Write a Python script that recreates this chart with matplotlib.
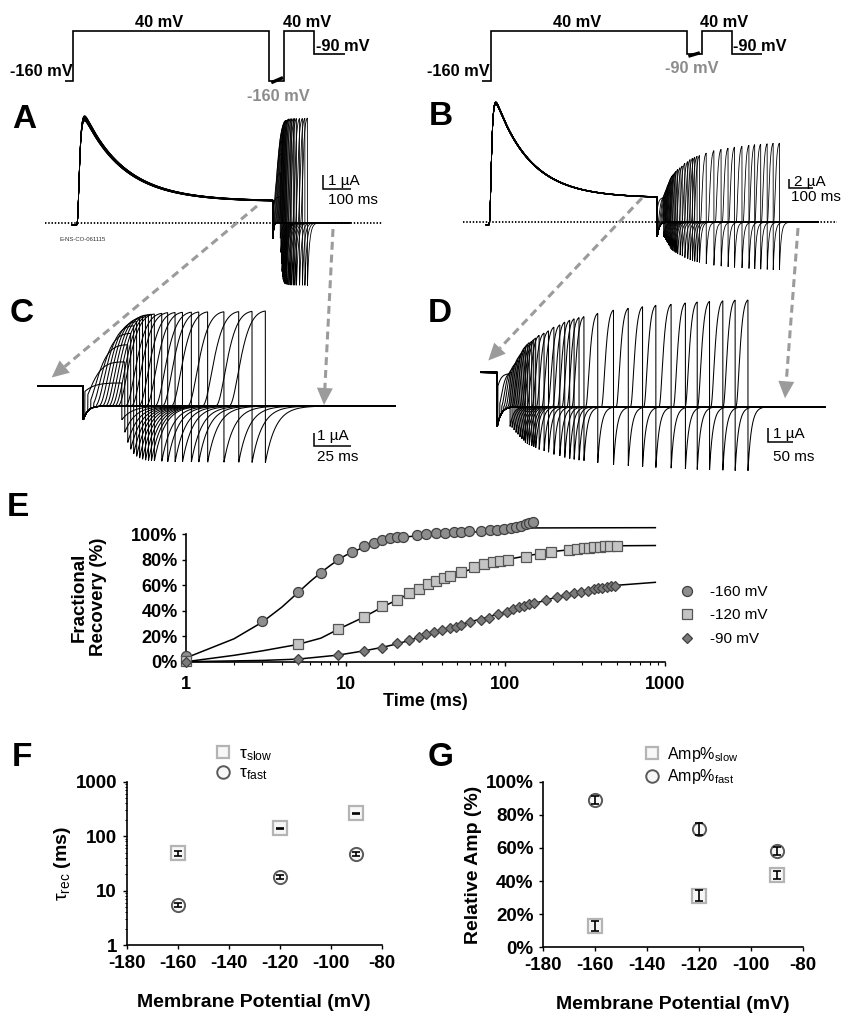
import numpy as np
import matplotlib
matplotlib.use('Agg')
import matplotlib.pyplot as plt
from matplotlib import font_manager as fm
from matplotlib.patches import Polygon
from matplotlib.ticker import FixedLocator, FixedFormatter, NullFormatter, LogLocator

W, H, DPI = 843, 1015, 100

# ------------------------------------------------------------------ data
# Panel E : fractional recovery (%) vs recovery interval (ms)
t160 = [1, 3, 5, 7, 9, 11, 13, 15, 17, 19, 21, 23, 28, 32, 37, 42, 48, 53, 59,
        70, 80, 89, 98, 108, 116, 125, 134, 141, 150]
y160 = [4.7, 31.9, 54.5, 69.9, 80.4, 86.3, 90.6, 93.4, 95.8, 96.8, 97.6, 98.1, 99.2,
        100.4, 100.8, 101.2, 101.6, 102.0, 102.3, 102.6, 103.0, 103.5, 104.2, 105.0,
        105.8, 106.8, 107.8, 108.5, 109.9]
t120 = [1, 5, 9, 13, 17, 21, 25, 29, 33, 37, 41, 45, 53, 64, 74, 84, 93, 104, 134,
        165, 192, 251, 281, 310, 335, 359, 391, 422, 453, 498]
y120 = [0.5, 13.6, 25.7, 35.1, 43.5, 48.2, 54.0, 57.0, 60.7, 63.3, 65.9, 67.3, 70.6,
        74.6, 76.4, 78.0, 79.0, 79.8, 82.4, 84.3, 85.8, 87.7, 88.5, 89.0, 89.5, 90.0,
        90.3, 90.6, 90.8, 91.0]
t90 = [1, 5, 9, 13, 17, 21, 25, 29, 32, 36, 40, 45, 49, 53, 60, 70, 79, 90, 102, 112,
       122, 131, 141, 151, 179, 211, 241, 270, 297, 328, 357, 381, 406, 433, 458, 484]
y90 = [0, 1.8, 5.2, 8.6, 11.0, 14.4, 16.9, 19.2, 21.7, 23.6, 25.1, 26.2, 27.5, 28.8,
       30.9, 32.7, 34.5, 37.4, 39.2, 41.4, 42.9, 44.0, 45.0, 45.8, 48.4, 51.0, 52.4,
       53.7, 54.9, 55.7, 56.8, 57.6, 58.1, 58.6, 59.2, 59.4]
# fitted curves
fit160_t = [1, 2, 3, 4, 5, 6, 7, 8, 9, 10, 12, 14, 17, 20, 25, 30, 40, 60, 100, 150, 870]
fit160_y = [3, 18, 31, 43, 54, 63, 70, 75.5, 80, 83.5, 88, 91.5, 94.5, 96.5, 98.2, 99.2,
            100.2, 101.5, 103.5, 105, 105.2]
fit120_t = [1, 2, 3, 5, 7, 9, 13, 17, 21, 25, 30, 40, 50, 70, 100, 150, 200, 300, 500, 870]
fit120_y = [0, 5, 8.5, 13.5, 18.5, 25.5, 35, 43, 48.5, 53.5, 57.8, 64.5, 69, 75, 80, 84,
            86.5, 89, 91, 91.2]
fit90_t = [1, 3, 5, 9, 13, 17, 21, 25, 30, 40, 50, 70, 100, 150, 200, 300, 500, 870]
fit90_y = [0, 1, 2, 5.2, 8.5, 11.3, 14, 16.7, 19.8, 24.8, 28.5, 33.5, 39, 45.5, 50, 55,
           60, 62.3]
legend_E = ['-160 mV', '-120 mV', '-90 mV']

# Panels F / G
potentials = [-160, -120, -90]
tau_slow = [48.4, 139, 263]
tau_slow_err = [6, 3, 5]
tau_fast = [5.43, 18.0, 46.4]
tau_fast_err = [0.45, 1.5, 4]
amp_fast = [88.9, 71.4, 58.3]
amp_fast_err = [2.4, 3.5, 2.5]
amp_slow = [13.0, 31.0, 43.7]
amp_slow_err = [3.0, 3.3, 2.6]

# Voltage protocols (schematic)
prot_edges = [-30, 0, 700, 755, 860, 970]
prot_A_mV = [-160, 40, -160, 40, -90]
prot_B_mV = [-160, 40, -90, 40, -90]

# Recovery-protocol timing for the current traces (ms)
Tc = 700.0
D_test = 25.0
sweeps_160 = [d for d in t160 if d <= 100]
sweeps_90 = list(t90)

# ------------------------------------------------------------------ style
names = {f.name for f in fm.fontManager.ttflist}
SANS = 'Liberation Sans' if 'Liberation Sans' in names else 'DejaVu Sans'
plt.rcParams['font.family'] = [SANS, 'DejaVu Sans']
plt.rcParams['axes.unicode_minus'] = False
plt.rcParams['mathtext.fontset'] = 'custom'
plt.rcParams['mathtext.rm'] = SANS
plt.rcParams['mathtext.it'] = SANS + ':italic'
plt.rcParams['mathtext.bf'] = SANS + ':bold'

fig = plt.figure(figsize=(W / DPI, H / DPI), dpi=DPI)


def px_axes(l, t, r, b):
    return fig.add_axes([l / W, 1 - b / H, (r - l) / W, (b - t) / H])


def trace_axes(rect, x0_px, t0, px_per_ms, y0_px, px_per_ua):
    l, t, r, b = rect
    ax = px_axes(l, t, r, b)
    ax.set_xlim(t0 + (l - x0_px) / px_per_ms, t0 + (r - x0_px) / px_per_ms)
    ax.set_ylim((y0_px - b) / px_per_ua, (y0_px - t) / px_per_ua)
    ax.axis('off')
    ax.patch.set_alpha(0)
    return ax


# ------------------------------------------------------------------ simple channel model
tau_act, tau_inact, h_ss, tau_resid = 6.0, 145.0, 0.17, 6.0
tail_after_ratio, tail_after_tau = -0.6, 7.0
_tt = np.arange(0, Tc, 0.05)
G = 1.0 / np.max((1 - np.exp(-_tt / tau_act)) ** 3 * (h_ss + (1 - h_ss) * np.exp(-_tt / tau_inact)))


def sweep(delta, rec_t, rec_y, ratio_int, tau_int, t0, t1, dt):
    t = np.arange(t0, t1, dt)
    I = np.full_like(t, -0.02)
    c = (t >= 0) & (t < Tc)
    I[c] = G * (1 - np.exp(-t[c] / tau_act)) ** 3 * (h_ss + (1 - h_ss) * np.exp(-t[c] / tau_inact))
    i_plat = G * (1 - np.exp(-Tc / tau_act)) ** 3 * (h_ss + (1 - h_ss) * np.exp(-Tc / tau_inact))
    r = (t >= Tc) & (t < Tc + delta)
    I[r] = ratio_int * i_plat * np.exp(-(t[r] - Tc) / tau_int)
    frac = np.interp(np.log10(delta), np.log10(rec_t), rec_y) / 100.0
    h0 = h_ss + (1 - h_ss) * frac
    m0 = np.exp(-delta / tau_resid)
    s = (t >= Tc + delta) & (t < Tc + delta + D_test)
    ts = t[s] - (Tc + delta)
    I[s] = G * (1 - (1 - m0) * np.exp(-ts / tau_act)) ** 3 * (h_ss + (h0 - h_ss) * np.exp(-ts / tau_inact))
    i_end = G * (1 - (1 - m0) * np.exp(-D_test / tau_act)) ** 3 * (h_ss + (h0 - h_ss) * np.exp(-D_test / tau_inact))
    e = t >= Tc + delta + D_test
    I[e] = tail_after_ratio * i_end * np.exp(-(t[e] - Tc - delta - D_test) / tail_after_tau)
    return t, I


def draw_sweeps(ax, sweeps, rec_t, rec_y, ratio_int, tau_int, t0, t1, dt, amp, rundown, lw):
    n = len(sweeps)
    for i, d in enumerate(sweeps):
        t, I = sweep(d, rec_t, rec_y, ratio_int, tau_int, t0, t1, dt)
        k = 1 - rundown * i / max(n - 1, 1)
        ax.plot(t, I * amp * k, color='black', lw=lw, solid_joinstyle='miter')


def scale_bar(ax, t, i, dt_ms, di_ua):
    ax.plot([t, t, t + dt_ms], [i + di_ua, i, i], color='black', lw=1.1,
            solid_capstyle='butt', solid_joinstyle='miter')


# ------------------------------------------------------------------ protocols
fmap_v = [-400, -160, -90, 40, 300]
fmap_y = [-1.2, 0.0, 0.544, 1.0, 2.3]


def fwd(v):
    return np.interp(v, fmap_v, fmap_y)


def inv(y):
    return np.interp(y, fmap_y, fmap_v)


def protocol_axes(x0_px, levels, bundle):
    ax = trace_axes((20, 0, 420 if x0_px < 400 else 843, 100), x0_px, 0, 0.28, 0, 1)
    ax.set_yscale('function', functions=(fwd, inv))
    ax.set_ylim(inv(-(100 - 80.7) / 50), inv(80.7 / 50))
    ax.stairs(levels, prot_edges, baseline=None, color='black', lw=1.2)
    ax.plot(bundle[0], bundle[1], color='black', lw=2.4, solid_capstyle='butt')
    ax.axis('off')
    return ax


protocol_axes(73, prot_A_mV, ([708, 750], [-168, -152]))
protocol_axes(490.7, prot_B_mV, ([706, 747], [-97, -86]))

# ------------------------------------------------------------------ panel A
amp_A = 7.64
axA = trace_axes((40, 95, 420, 300), 77, 0, 0.28, 222.7, 14)
axA.plot([(45 - 77) / 0.28, (383 - 77) / 0.28], [0, 0], color='black', lw=1.3,
         ls=(0, (0.8, 1.0)))
draw_sweeps(axA, sweeps_160, t160, y160, -0.7, 3.0, -18, 975, 0.25, amp_A, 0.05, 0.6)
scale_bar(axA, 877.5, 2.39, 100, 1)

# ------------------------------------------------------------------ panel B
amp_B = 25.9
axB = trace_axes((440, 95, 843, 300), 489.3, 0, 0.24, 222.3, 4.65)
axB.plot([(463.3 - 489.3) / 0.24, (836.7 - 489.3) / 0.24], [0, 0], color='black', lw=1.3,
         ls=(0, (0.8, 1.0)))
draw_sweeps(axB, sweeps_90, t90, y90, -0.57, 8.0, -14, 1370, 0.25, amp_B, 0.02, 0.6)
scale_bar(axB, 1250, 7.3, 100, 2)

# ------------------------------------------------------------------ panel C
amp_C = 7.14
axC = trace_axes((20, 300, 420, 485), 83.3, Tc, 1.48, 406, 13.3)
draw_sweeps(axC, sweeps_160, t160, y160, -0.7, 3.0, Tc - (83.3 - 38) / 1.48,
            Tc + (395 - 83.3) / 1.48, 0.05, amp_C, 0.03, 0.75)
scale_bar(axC, 856, -3.0, 25, 1)

# ------------------------------------------------------------------ panel D
amp_D = 12.2
axD = trace_axes((440, 290, 843, 485), 497.3, Tc, 0.4925, 406.7, 13.3)
draw_sweeps(axD, sweeps_90, t90, y90, -0.57, 8.0, Tc - (497.3 - 481) / 0.4925,
            Tc + (825 - 497.3) / 0.4925, 0.1, amp_D, 0.02, 0.75)
scale_bar(axD, 1250, -2.63, 50, 1)

# ------------------------------------------------------------------ panel E
axE = px_axes(186, 534.3, 665, 661.7)
axE.set_xscale('log')
axE.set_xlim(1, 1000)
axE.set_ylim(0, 100)
st160 = dict(marker='o', ms=7.2, mfc='#8e8e8e', mec='#404040', mew=0.9, ls='none')
st120 = dict(marker='s', ms=6.6, mfc='#c4c4c4', mec='#555555', mew=0.9, ls='none')
st90 = dict(marker='D', ms=4.8, mfc='#7a7a7a', mec='#404040', mew=0.9, ls='none')
axE.plot(fit160_t, fit160_y, color='black', lw=1.1, clip_on=False)
axE.plot(fit120_t, fit120_y, color='black', lw=1.1, clip_on=False)
axE.plot(fit90_t, fit90_y, color='black', lw=1.1, clip_on=False)
h1, = axE.plot(t160, y160, clip_on=False, zorder=4, **st160)
h2, = axE.plot(t120, y120, clip_on=False, zorder=4, **st120)
h3, = axE.plot(t90, y90, clip_on=False, zorder=4, **st90)
for s in ('top', 'right'):
    axE.spines[s].set_visible(False)
for s in ('left', 'bottom'):
    axE.spines[s].set_linewidth(1.2)
axE.set_yticks([0, 20, 40, 60, 80, 100])
axE.set_yticklabels(['0%', '20%', '40%', '60%', '80%', '100%'])
axE.xaxis.set_major_locator(FixedLocator([1, 10, 100, 1000]))
axE.xaxis.set_major_formatter(FixedFormatter(['1', '10', '100', '1000']))
axE.xaxis.set_minor_locator(LogLocator(base=10, subs=np.arange(2, 10)))
axE.xaxis.set_minor_formatter(NullFormatter())
axE.tick_params(axis='both', which='major', direction='out', length=3, width=1,
                labelsize=13, pad=3)
axE.tick_params(axis='x', which='minor', direction='out', length=2.5, width=0.8)
for lab in axE.get_xticklabels() + axE.get_yticklabels():
    lab.set_fontweight('bold')
axE.tick_params(axis='x', pad=7)
axE.set_xlabel('Time (ms)', fontsize=13, fontweight='bold', labelpad=0)
axE.legend([h1, h2, h3], legend_E, loc='upper left',
           bbox_to_anchor=(679 / W, 1 - 585 / H), bbox_transform=fig.transFigure,
           frameon=False, fontsize=11, handlelength=1.0, handletextpad=1.0,
           labelspacing=0.62, borderpad=0, borderaxespad=0)

# ------------------------------------------------------------------ panel F
axF = px_axes(126.7, 781.7, 381.7, 945)
axF.set_yscale('log')
axF.set_xlim(-180, -80)
axF.set_ylim(1, 1000)
stSlow = dict(marker='s', ms=9.5, mfc='#f7f7f7', mec='#b4b4b4', mew=1.6, ls='none')
stFast = dict(marker='o', ms=9.5, mfc='#f7f7f7', mec='#5a5a5a', mew=1.4, ls='none')
fs, = axF.plot(potentials, tau_slow, clip_on=False, zorder=3, **stSlow)
ff, = axF.plot(potentials, tau_fast, clip_on=False, zorder=3, **stFast)
axF.errorbar(potentials, tau_slow, yerr=tau_slow_err, fmt='none', ecolor='black',
             elinewidth=1.2, capsize=2.6, capthick=1.2, zorder=4, clip_on=False)
axF.errorbar(potentials, tau_fast, yerr=tau_fast_err, fmt='none', ecolor='black',
             elinewidth=1.2, capsize=2.6, capthick=1.2, zorder=4, clip_on=False)
axF.set_xticks([-180, -160, -140, -120, -100, -80])
axF.set_yticks([1, 10, 100, 1000])
axF.set_yticklabels(['1', '10', '100', '1000'])
axF.yaxis.set_minor_locator(LogLocator(base=10, subs=np.arange(2, 10)))
axF.yaxis.set_minor_formatter(NullFormatter())
axF.set_ylabel(r'$\mathrm{\tau_{rec}}$ (ms)', fontsize=14, fontweight='bold', labelpad=2)
axF.legend([fs, ff], [r'$\mathrm{\tau_{slow}}$', r'$\mathrm{\tau_{fast}}$'], loc='upper left',
           bbox_to_anchor=(215 / W, 1 - 746 / H), bbox_transform=fig.transFigure,
           frameon=False, fontsize=12.5, handlelength=0.9, handletextpad=0.5,
           labelspacing=0.15, borderpad=0, borderaxespad=0, markerscale=0.95)

# ------------------------------------------------------------------ panel G
axG = px_axes(543.3, 781.7, 803.3, 947.3)
axG.set_xlim(-180, -80)
axG.set_ylim(0, 100)
gs, = axG.plot(potentials, amp_slow, clip_on=False, zorder=3, **stSlow)
gf, = axG.plot(potentials, amp_fast, clip_on=False, zorder=3, **stFast)
axG.errorbar(potentials, amp_slow, yerr=amp_slow_err, fmt='none', ecolor='black',
             elinewidth=1.2, capsize=2.6, capthick=1.2, zorder=4, clip_on=False)
axG.errorbar(potentials, amp_fast, yerr=amp_fast_err, fmt='none', ecolor='black',
             elinewidth=1.2, capsize=2.6, capthick=1.2, zorder=4, clip_on=False)
axG.set_xticks([-180, -160, -140, -120, -100, -80])
axG.set_yticks([0, 20, 40, 60, 80, 100])
axG.set_yticklabels(['0%', '20%', '40%', '60%', '80%', '100%'])
axG.set_ylabel('Relative Amp (%)', fontsize=14, fontweight='bold', labelpad=3)
axG.legend([gs, gf], [r'Amp%$_{\mathrm{slow}}$', r'Amp%$_{\mathrm{fast}}$'], loc='upper left',
           bbox_to_anchor=(645 / W, 1 - 745 / H), bbox_transform=fig.transFigure,
           frameon=False, fontsize=11.5, handlelength=0.9, handletextpad=0.5,
           labelspacing=0.2, borderpad=0, borderaxespad=0, markerscale=0.95)

for ax in (axF, axG):
    for s in ('top', 'right'):
        ax.spines[s].set_visible(False)
    for s in ('left', 'bottom'):
        ax.spines[s].set_linewidth(1.2)
    ax.tick_params(axis='both', which='major', direction='out', length=3, width=1,
                   labelsize=13.5, pad=4)
    ax.tick_params(axis='both', which='minor', direction='out', length=1.8, width=0.7)
    for lab in ax.get_xticklabels() + ax.get_yticklabels():
        lab.set_fontweight('bold')
    ax.set_xlabel('Membrane Potential (mV)', fontsize=14, fontweight='bold', labelpad=16)

# ------------------------------------------------------------------ overlay (labels, arrows)
ov = fig.add_axes([0, 0, 1, 1])
ov.set_xlim(0, W)
ov.set_ylim(H, 0)
ov.axis('off')
ov.patch.set_alpha(0)
ov.set_zorder(10)


def txt(x, y, s, size=11.8, weight='bold', color='black', ha='center', va='center', **kw):
    ov.text(x, y, s, fontsize=size, fontweight=weight, color=color, ha=ha, va=va, **kw)


# protocol labels
txt(159, 22.7, '40 mV'); txt(307, 22.7, '40 mV'); txt(343, 46.7, '-90 mV')
txt(41, 71.7, '-160 mV'); txt(278, 96.7, '-160 mV', color='#8c8c8c')
txt(576.7, 22.7, '40 mV'); txt(724, 22.7, '40 mV'); txt(760, 46.7, '-90 mV')
txt(458, 71.7, '-160 mV'); txt(691.7, 68.3, '-90 mV', color='#8c8c8c')

# scale-bar labels
txt(328, 181, '1 µA', size=11, weight='normal', ha='left')
txt(328, 200, '100 ms', size=11, weight='normal', ha='left')
txt(794, 181.7, '2 µA', size=11, weight='normal', ha='left')
txt(791, 197, '100 ms', size=11, weight='normal', ha='left')
txt(317, 436, '1 µA', size=11, weight='normal', ha='left')
txt(317, 457, '25 ms', size=11, weight='normal', ha='left')
txt(773, 434, '1 µA', size=11, weight='normal', ha='left')
txt(773, 457, '50 ms', size=11, weight='normal', ha='left')
txt(60, 239, 'E-NS-CO-061115', size=4.3, weight='normal', color='#333333', ha='left')

# E y label
txt(89, 597, 'Fractional\nRecovery (%)', size=13.5, rotation=90, linespacing=1.15)

# panel letters
for x, y, s in [(24, 119, 'A'), (441, 116, 'B'), (22, 314, 'C'), (440, 314, 'D'),
                (18, 508, 'E'), (22, 757, 'F'), (441, 757, 'G')]:
    txt(x, y, s, size=24)


def dashed_arrow(x0, y0, x1, y1, head_len=17, head_w=16, color='#9b9b9b', lw=2.2):
    d = np.array([x1 - x0, y1 - y0], float)
    u = d / np.hypot(*d)
    n = np.array([-u[1], u[0]])
    base = np.array([x1, y1]) - u * head_len
    ov.plot([x0, base[0]], [y0, base[1]], color=color, lw=lw, ls=(0, (2.6, 1.6)),
            dash_capstyle='butt')
    ov.add_patch(Polygon([[x1, y1], base + n * head_w / 2, base - n * head_w / 2],
                         closed=True, color=color, lw=0))


dashed_arrow(257, 206, 51.7, 377.5)
dashed_arrow(333, 229, 324, 405)
dashed_arrow(642, 198, 488.3, 360.5)
dashed_arrow(798, 228, 785, 398.3)

fig.savefig('out.png', dpi=DPI)
